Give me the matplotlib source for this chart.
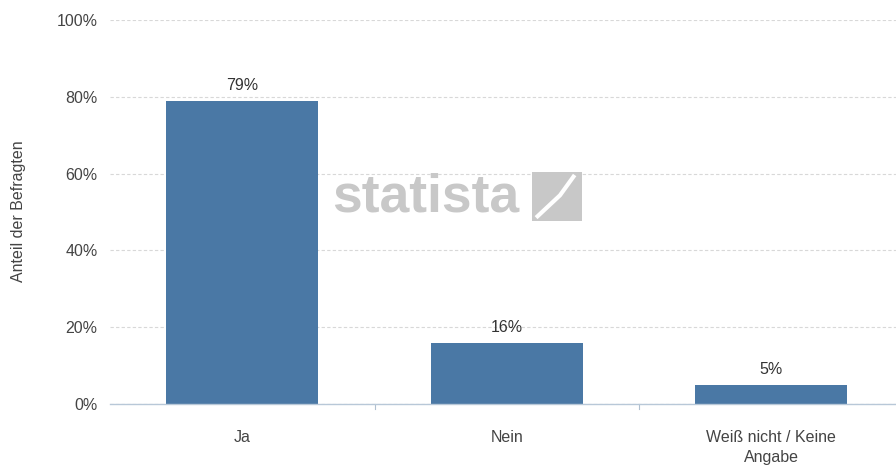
import matplotlib.pyplot as plt
from matplotlib.patches import Rectangle

plt.rcParams['font.family'] = ['Liberation Sans', 'DejaVu Sans']

categories = ['Ja', 'Nein', 'Weiß nicht / Keine\nAngabe']
values = [79, 16, 5]
labels = ['79%', '16%', '5%']
yticks = [0, 20, 40, 60, 80, 100]

fig = plt.figure(figsize=(8.96, 4.65), dpi=100)
ax = fig.add_axes([0.123, 0.131, 0.885, 0.826])

x = range(len(categories))
bars = ax.bar(x, values, width=0.575, color='#4a78a5', zorder=3)
for b, lab in zip(bars, labels):
    ax.text(b.get_x() + b.get_width() / 2, b.get_height() + 2.0, lab,
            ha='center', va='bottom', fontsize=11.5, color='#333333')

ax.set_xlim(-0.5, 2.5)
ax.set_ylim(0, 100)
ax.set_yticks(yticks)
ax.set_yticklabels([f'{v}%' for v in yticks], fontsize=11.5, color='#444444')
ax.grid(axis='y', color='#d8d8d8', linestyle=(0, (3, 2)), linewidth=0.8, zorder=0)

# category labels and boundary ticks
ax.set_xticks(list(x))
ax.set_xticklabels(categories, fontsize=11.5, color='#444444', linespacing=1.35)
ax.tick_params(axis='x', length=0, pad=19)
ax.tick_params(axis='y', length=0, pad=9)
for bx in [0.5, 1.5]:
    ax.plot([bx, bx], [0, -1.3], color='#b0c0d0', lw=0.8, clip_on=False)

for s in ['top', 'right', 'left']:
    ax.spines[s].set_visible(False)
ax.spines['bottom'].set_color('#b8c8d8')
ax.spines['bottom'].set_linewidth(1.0)
ax.spines['bottom'].set_zorder(4)

fig.text(0.021, 0.545, 'Anteil der Befragten', fontsize=11.5, color='#444444',
         rotation=90, ha='center', va='center')

# watermark
fig.text(0.371, 0.575, 'statista', fontsize=38.5, fontweight='bold', color='#c8c8c8',
         ha='left', va='center', zorder=5)
fig.patches.append(Rectangle((0.594, 0.525), 0.055, 0.105, transform=fig.transFigure,
                             facecolor='#c8c8c8', edgecolor='none', zorder=5))
fig.lines.append(plt.Line2D([0.600, 0.625, 0.640], [0.535, 0.58, 0.62],
                            transform=fig.transFigure, color='white', lw=3, zorder=6))

fig.savefig('out.png', dpi=100, facecolor='white')
